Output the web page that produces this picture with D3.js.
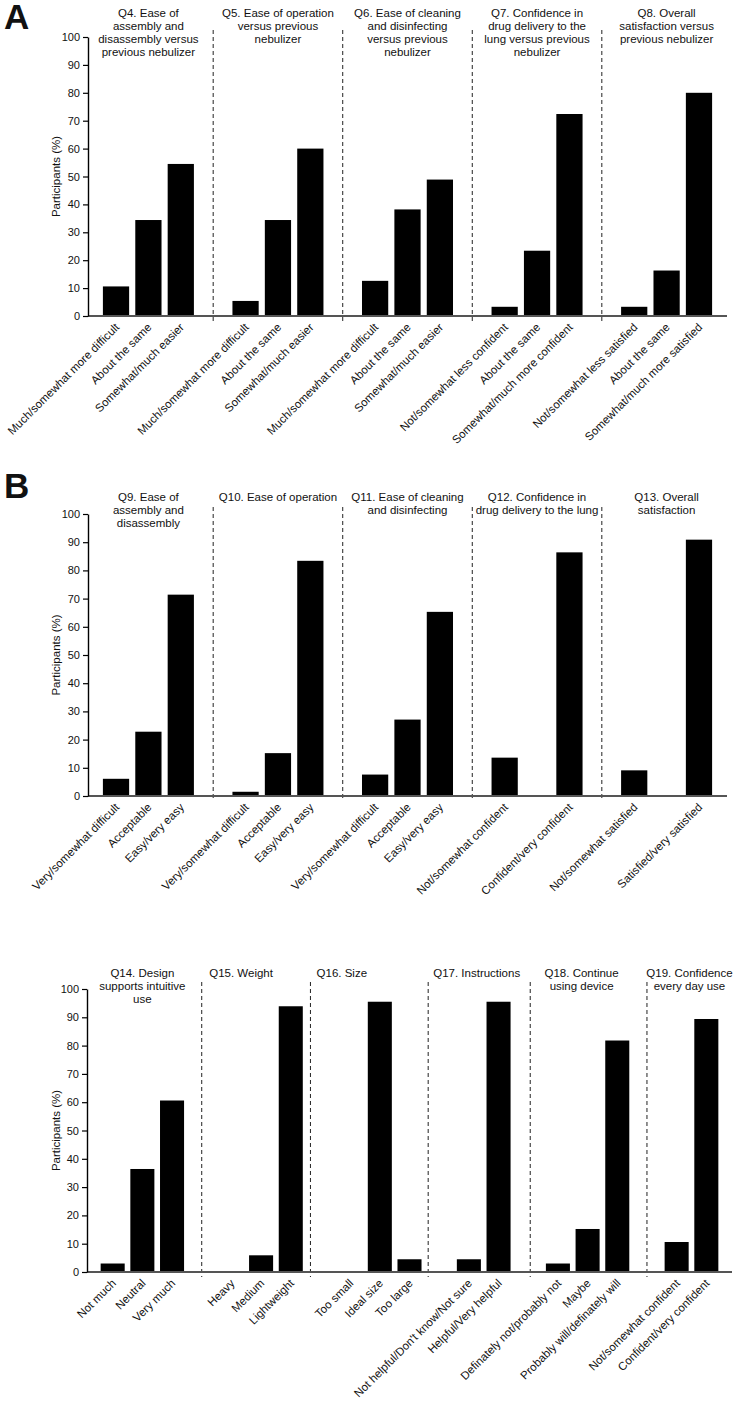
<!DOCTYPE html>
<html>
<head>
<meta charset="utf-8">
<script src="https://cdn.jsdelivr.net/npm/d3@7"></script>
<style>
  html, body { margin: 0; padding: 0; background: #fff; }
  text { font-family: "Liberation Sans", Arial, sans-serif; fill: #111; }
</style>
</head>
<body>
<script>
// ---------------- DATA ----------------
const yTicks = [0, 10, 20, 30, 40, 50, 60, 70, 80, 90, 100];
const yAxisTitle = "Participants (%)";

// Panel A
const titlesA = [
  ["Q4. Ease of", "assembly and", "disassembly versus", "previous nebulizer"],
  ["Q5. Ease of operation", "versus previous", "nebulizer"],
  ["Q6. Ease of cleaning", "and disinfecting", "versus previous", "nebulizer"],
  ["Q7. Confidence in", "drug delivery to the", "lung versus previous", "nebulizer"],
  ["Q8. Overall", "satisfaction versus", "previous nebulizer"]
];
const labelsA = [
  ["Much/somewhat more difficult", "About the same", "Somewhat/much easier"],
  ["Much/somewhat more difficult", "About the same", "Somewhat/much easier"],
  ["Much/somewhat more difficult", "About the same", "Somewhat/much easier"],
  ["Not/somewhat less confident", "About the same", "Somewhat/much more confident"],
  ["Not/somewhat less satisfied", "About the same", "Somewhat/much more satisfied"]
];
const valuesA = [
  [10.6, 34.4, 54.5],
  [5.4, 34.4, 60.0],
  [12.6, 38.2, 48.9],
  [3.3, 23.4, 72.4],
  [3.3, 16.3, 80.0]
];

// Panel B
const titlesB = [
  ["Q9. Ease of", "assembly and", "disassembly"],
  ["Q10. Ease of operation"],
  ["Q11. Ease of cleaning", "and disinfecting"],
  ["Q12. Confidence in", "drug delivery to the lung"],
  ["Q13. Overall", "satisfaction"]
];
const labelsB = [
  ["Very/somewhat difficult", "Acceptable", "Easy/very easy"],
  ["Very/somewhat difficult", "Acceptable", "Easy/very easy"],
  ["Very/somewhat difficult", "Acceptable", "Easy/very easy"],
  ["Not/somewhat confident", "", "Confident/very confident"],
  ["Not/somewhat satisfied", "", "Satisfied/very satisfied"]
];
const valuesB = [
  [6.1, 22.8, 71.4],
  [1.5, 15.2, 83.4],
  [7.6, 27.1, 65.3],
  [13.6, null, 86.4],
  [9.1, null, 90.9]
];

// Panel C
const titlesC = [
  ["Q14. Design", "supports intuitive", "use"],
  ["Q15. Weight"],
  ["Q16. Size"],
  ["Q17. Instructions"],
  ["Q18. Continue", "using device"],
  ["Q19. Confidence", "every day use"]
];
const labelsC = [
  ["Not much", "Neutral", "Very much"],
  ["Heavy", "Medium", "Lightweight"],
  ["Too small", "Ideal size", "Too large"],
  ["Not helpful/Don't know/Not sure", "Helpful/Very helpful"],
  ["Definately not/probably not", "Maybe", "Probably will/definately will"],
  ["Not/somewhat confident", "Confident/very confident"]
];
const valuesC = [
  [3.0, 36.4, 60.6],
  [0, 5.9, 93.9],
  [0, 95.5, 4.5],
  [4.5, 95.5],
  [3.0, 15.2, 81.8],
  [10.6, 89.4]
];

// ---------------- LAYOUT ----------------
const W = 735, H = 1407;
const svg = d3.select("body").append("svg")
  .attr("width", W).attr("height", H)
  .style("display", "block");
svg.append("rect").attr("width", W).attr("height", H).attr("fill", "#fff");

function drawPanel(cfg) {
  const { titles, labels, values, x0, x1, yTop, yBot, titleY, letter, letterY,
          sepShift, titleShift } = cfg;
  const g = svg.append("g");

  const domain = [];
  const gapKeys = [];
  labels.forEach((grp, gi) => {
    grp.forEach((_, i) => domain.push(gi + "-" + i));
    if (gi < labels.length - 1) { domain.push("gap" + gi); gapKeys.push("gap" + gi); }
  });

  const x = d3.scaleBand().domain(domain).range([x0, x1])
    .paddingInner(0.19).paddingOuter(0.46);
  const y = d3.scaleLinear().domain([0, 100]).range([yBot, yTop]);
  const bw = x.bandwidth();

  // separators
  g.selectAll("line.sep").data(gapKeys).enter().append("line")
    .attr("class", "sep")
    .attr("x1", (k, i) => x(k) + bw / 2 + (sepShift ? sepShift[i] : 0))
    .attr("x2", (k, i) => x(k) + bw / 2 + (sepShift ? sepShift[i] : 0))
    .attr("y1", y(100) - 7)
    .attr("y2", y(0) + 5)
    .attr("stroke", "#222").attr("stroke-width", 1)
    .attr("stroke-dasharray", "4,3");

  // bars
  const bars = [];
  values.forEach((grp, gi) => grp.forEach((v, i) => {
    if (v !== null) bars.push({ key: gi + "-" + i, v });
  }));
  g.selectAll("rect.bar").data(bars).enter().append("rect")
    .attr("class", "bar")
    .attr("x", d => x(d.key))
    .attr("width", bw)
    .attr("y", d => y(d.v))
    .attr("height", d => y(0) - y(d.v))
    .attr("fill", "#000");

  // x axis baseline
  g.append("line")
    .attr("x1", x0).attr("x2", x1)
    .attr("y1", y(0)).attr("y2", y(0))
    .attr("stroke", "#555").attr("stroke-width", 2);

  // y axis
  const ya = g.append("g").attr("transform", `translate(${x0},0)`)
    .call(d3.axisLeft(y).tickValues(yTicks).tickSize(5).tickSizeOuter(0).tickPadding(3));
  ya.select(".domain").attr("stroke", "#000").attr("stroke-width", 1.4);
  ya.selectAll(".tick line").attr("stroke", "#000").attr("stroke-width", 1.2);
  ya.selectAll(".tick text")
    .style("font-family", '"Liberation Sans", Arial, sans-serif')
    .style("font-size", "11px").attr("fill", "#111");

  // y axis title
  g.append("text")
    .attr("transform", `translate(60,${(y(0) + y(100)) / 2}) rotate(-90)`)
    .attr("text-anchor", "middle")
    .style("font-size", "11.5px")
    .text(yAxisTitle);

  // x labels
  const labs = [];
  labels.forEach((grp, gi) => grp.forEach((t, i) => {
    if (t) labs.push({ key: gi + "-" + i, t });
  }));
  g.selectAll("text.xl").data(labs).enter().append("text")
    .attr("class", "xl")
    .attr("transform", d => `translate(${x(d.key) + bw / 2 + 4},${y(0) + 12}) rotate(-45)`)
    .attr("text-anchor", "end")
    .style("font-size", "11.5px")
    .text(d => d.t);

  // titles
  titles.forEach((lines, gi) => {
    const n = labels[gi].length;
    const cx = (x(gi + "-0") + x(gi + "-" + (n - 1))) / 2 + bw / 2 + (titleShift ? titleShift[gi] : 0);
    const t = g.append("text")
      .attr("text-anchor", "middle")
      .style("font-size", "11.5px");
    lines.forEach((ln, li) => {
      t.append("tspan").attr("x", cx).attr("y", titleY + li * 13).text(ln);
    });
  });

  if (letter) {
    g.append("text").attr("x", 4).attr("y", letterY)
      .style("font-size", "35px").style("font-weight", "bold")
      .attr("fill", "#000")
      .text(letter);
  }
}

drawPanel({ titles: titlesA, labels: labelsA, values: valuesA,
  x0: 88, x1: 727, yTop: 37, yBot: 316, titleY: 17, letter: "A", letterY: 29 });
drawPanel({ titles: titlesB, labels: labelsB, values: valuesB,
  x0: 88, x1: 727, yTop: 514, yBot: 796, titleY: 501, letter: "B", letterY: 498 });
drawPanel({ titles: titlesC, labels: labelsC, values: valuesC,
  x0: 87, x1: 732, yTop: 989, yBot: 1272, titleY: 977, letter: null,
  sepShift: [0, -10, -11, 2, 0], titleShift: [0, -20, -38, -7, -6, -2] });
</script>
</body>
</html>
